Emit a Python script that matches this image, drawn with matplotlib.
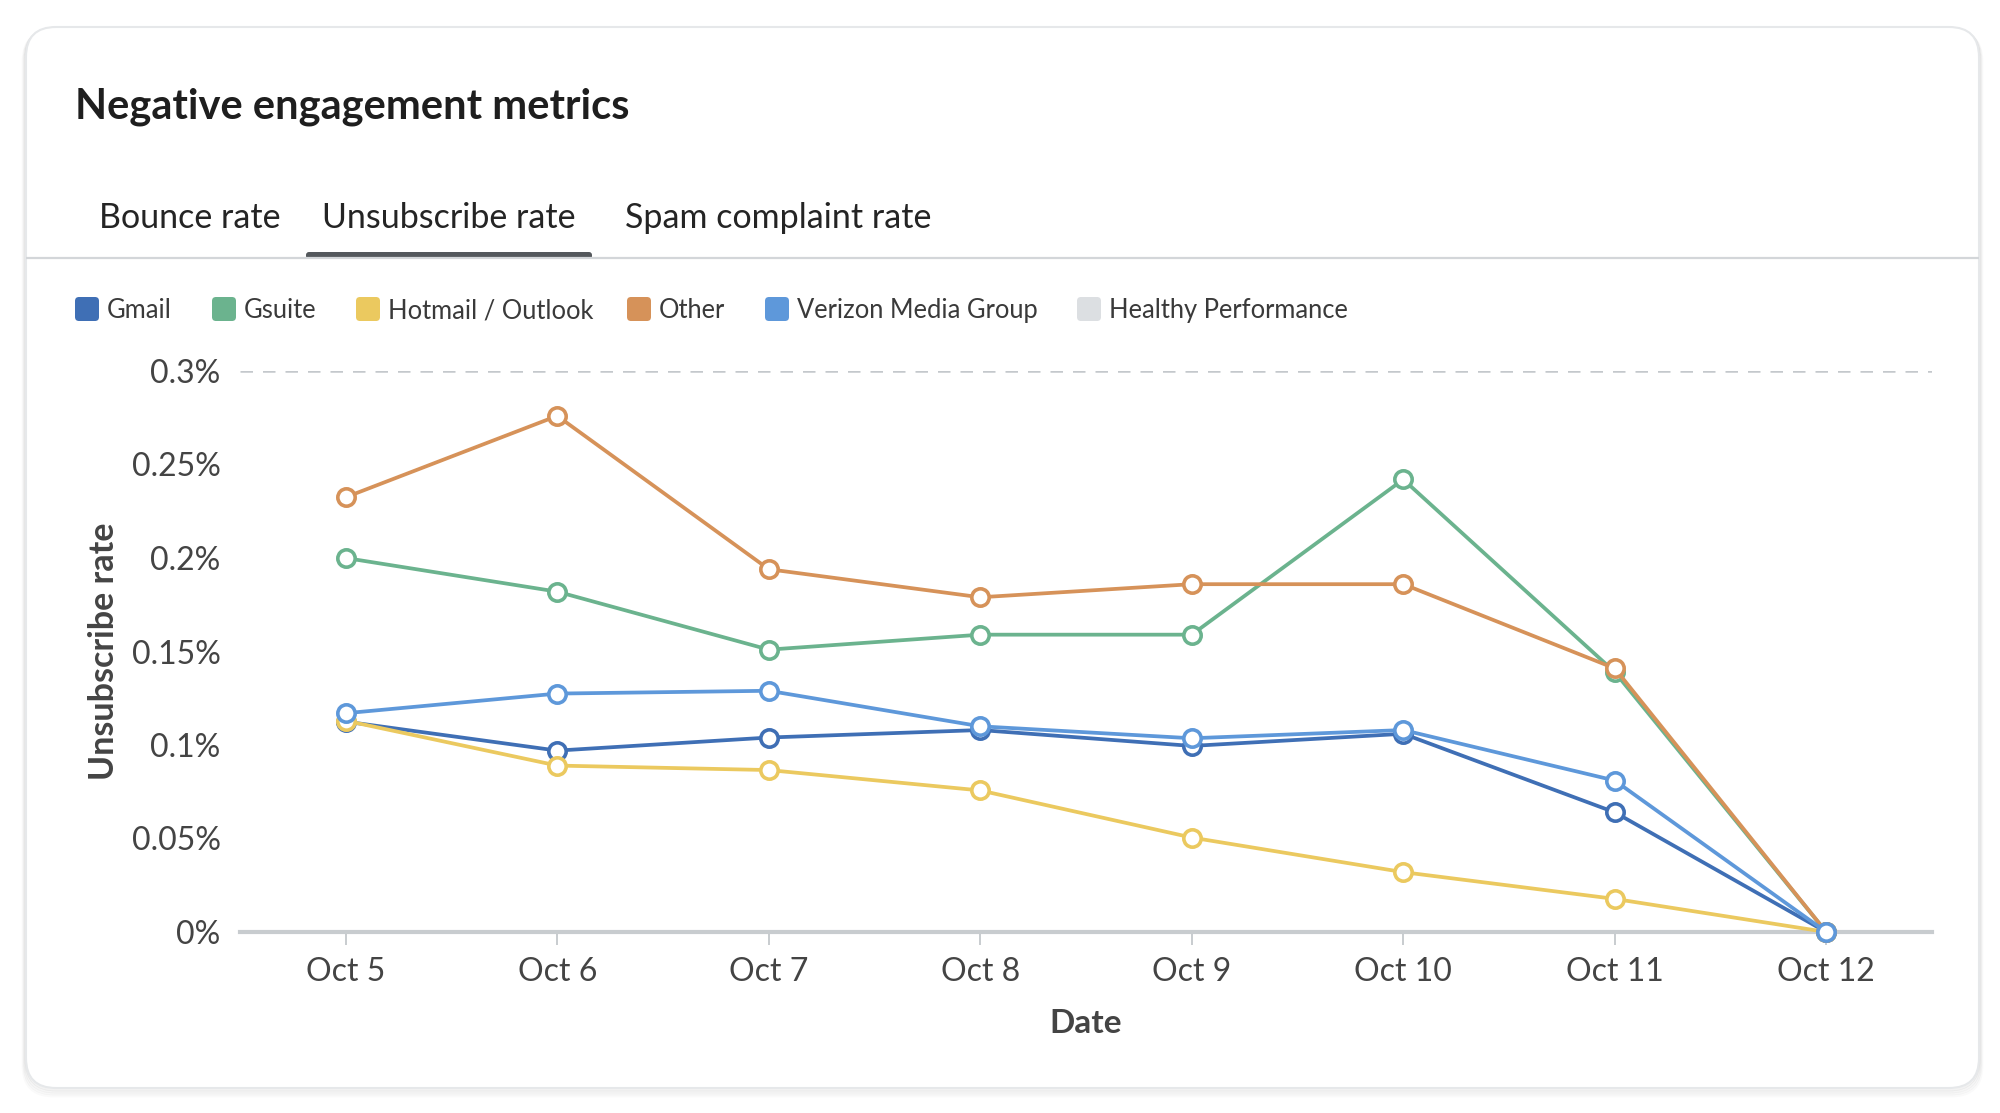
import matplotlib.pyplot as plt
from matplotlib.patches import FancyBboxPatch
from matplotlib.ticker import FuncFormatter

plt.rcParams['font.family'] = ['Lato', 'DejaVu Sans']

# values (percent)
dates = ['Oct 5', 'Oct 6', 'Oct 7', 'Oct 8', 'Oct 9', 'Oct 10', 'Oct 11', 'Oct 12']
gmail = [0.1125, 0.097, 0.104, 0.108, 0.0995, 0.106, 0.064, 0.0]
gsuite = [0.200, 0.182, 0.151, 0.159, 0.159, 0.242, 0.139, 0.0]
hotmail = [0.113, 0.089, 0.0866, 0.0757, 0.0505, 0.032, 0.0177, 0.0]
other = [0.2325, 0.276, 0.194, 0.179, 0.186, 0.186, 0.141, 0.0]
verizon = [0.117, 0.1275, 0.129, 0.110, 0.1036, 0.108, 0.081, 0.0]
healthy = 0.3
yticks = [0, 0.05, 0.1, 0.15, 0.2, 0.25, 0.3]
tabs = ['Bounce rate', 'Unsubscribe rate', 'Spam complaint rate']

names = ['Gmail', 'Gsuite', 'Hotmail / Outlook', 'Other', 'Verizon Media Group', 'Healthy Performance']
colors = ['#3f6fb5', '#6bb38e', '#ebc95f', '#d69259', '#5e98da', '#dcdfe2']

W, H = 2000, 1113
fig = plt.figure(figsize=(W / 100, H / 100), dpi=100)
fig.patch.set_facecolor('white')

# background canvas in pixel units
bg = fig.add_axes([0, 0, 1, 1])
bg.set_xlim(0, W)
bg.set_ylim(H, 0)
bg.axis('off')

# card + soft shadow
for i, a in enumerate([0.05, 0.04, 0.03, 0.02]):
    bg.add_patch(FancyBboxPatch((26 - i, 28 + i), 1953 + 2 * i, 1062 + i,
                                boxstyle='round,pad=0,rounding_size=30',
                                fc='none', ec='black', lw=2, alpha=a))
bg.add_patch(FancyBboxPatch((26, 27), 1953, 1061, boxstyle='round,pad=0,rounding_size=30',
                            fc='white', ec='#e6e8ea', lw=1.5))

bg.text(75, 118, 'Negative engagement metrics', fontsize=30, fontweight='bold',
        color='#1e1e1e', va='baseline')

tab_x = [99, 322, 625]
for t, x in zip(tabs, tab_x):
    bg.text(x, 228, t, fontsize=24.5, color='#242424', va='baseline')
bg.plot([26, 1979], [258, 258], color='#d3d6d9', lw=1.6, solid_capstyle='butt')
bg.add_patch(FancyBboxPatch((306, 252), 286, 7, boxstyle='round,pad=0,rounding_size=3',
                            fc='#54585c', ec='none'))

# legend
leg_x = [75, 212, 356, 627, 765, 1077]
for x, n, c in zip(leg_x, names, colors):
    bg.add_patch(FancyBboxPatch((x, 297), 24, 24, boxstyle='round,pad=0,rounding_size=4',
                                fc=c, ec='none'))
    bg.text(x + 32, 318, n, fontsize=18.4, color='#3a3a3a', va='baseline')

# chart
ax = fig.add_axes([240 / W, 1 - 932 / H, (1932 - 240) / W, (932 - 371) / H])
ax.set_facecolor('none')
x = list(range(len(dates)))
for vals, c in zip([gmail, gsuite, hotmail, other, verizon], colors):
    ax.plot(x, vals, color=c, lw=2.7, marker='o', ms=12.5, mfc='white', mec=c, mew=2.6,
            clip_on=False, zorder=3)

ax.axhline(healthy, color='#c4c8cc', lw=1.8, ls=(0, (5, 4)), zorder=1)

ax.set_xlim(-0.5, 7.5)
ax.set_ylim(0, 0.3)
ax.set_xticks(x)
ax.set_xticklabels(dates)
ax.set_yticks(yticks)
ax.yaxis.set_major_formatter(FuncFormatter(lambda v, p: f'{v:g}%'))

for s in ['top', 'right', 'left']:
    ax.spines[s].set_visible(False)
ax.spines['bottom'].set_color('#c8cccf')
ax.spines['bottom'].set_linewidth(3)
ax.spines['bottom'].set_zorder(2)

ax.tick_params(axis='x', length=9, width=1.4, color='#c8cccf', pad=9,
               labelsize=23, labelcolor='#444444')
ax.tick_params(axis='y', length=0, pad=14, labelsize=23, labelcolor='#444444')

ax.set_ylabel('Unsubscribe rate', fontsize=24.5, fontweight='bold', color='#444444')
ax.yaxis.set_label_coords(-0.071, 0.5)
ax.set_xlabel('Date', fontsize=24, fontweight='bold', color='#444444')
ax.xaxis.set_label_coords(0.5, -0.138)

fig.savefig('out.png', dpi=100, facecolor='white')
